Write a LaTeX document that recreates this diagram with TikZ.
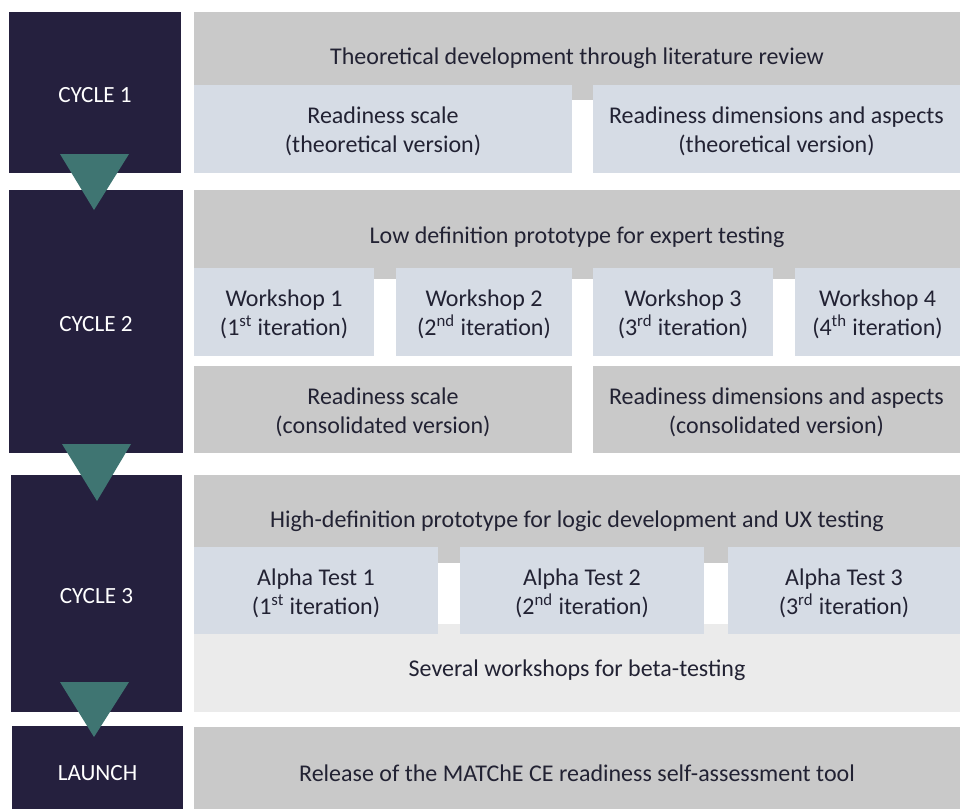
\documentclass[tikz,border=0pt]{standalone}
\usepackage{fontspec}
\setmainfont{Carlito}
\usetikzlibrary{fit}

\definecolor{navy}{HTML}{25203E}
\definecolor{teal}{HTML}{3F7572}
\definecolor{band}{HTML}{C9C9C9}
\definecolor{pale}{HTML}{D6DCE5}
\definecolor{soft}{HTML}{EBEBEB}
\definecolor{ink}{HTML}{222233}

\tikzset{
  blk/.style={rectangle,inner sep=0pt,outer sep=0pt},
  txt/.style={align=center,text=ink,inner sep=0pt,yshift=-1.5pt,
    font=\fontsize{13.66pt}{16.5pt}\selectfont},
  cycle/.style={blk,fill=navy,
    label={[txt,text=white,font=\fontsize{13.2pt}{16pt}\selectfont]center:#1}},
  head/.style={blk,fill=band,label={[txt]center:#1}},
  step box/.style={blk,fill=pale,label={[txt]center:#1}},
  out box/.style={blk,fill=band,label={[txt]center:#1}},
  beta/.style={blk,fill=soft,label={[txt]center:#1}},
  arrowhead/.style={fill=teal}
}

\begin{document}
\begin{tikzpicture}[x=0.02cm,y=-0.02cm]
\useasboundingbox (0,0) rectangle (960,808);

% cycle column
\node[cycle=CYCLE 1,fit={(9,12) (181,173)}](c1){};
\node[cycle=CYCLE 2,fit={(9,190) (183,453)}](c2){};
\node[cycle=CYCLE 3,fit={(11,475) (182,712)}](c3){};
\node[cycle=LAUNCH,fit={(12,726) (183,815)}](launch){};

% cycle 1
\node[head={Theoretical development through literature review},fit={(194,12) (960,100)}](t1){};
\node[step box={Readiness scale\\(theoretical version)},fit={(194,85) (572,173)}](s1){};
\node[step box={Readiness dimensions and aspects\\(theoretical version)},fit={(593,85) (960,173)}](d1){};

% cycle 2
\node[head={Low definition prototype for expert testing},fit={(194,190) (960,279)}](t2){};
\node[step box={Workshop 1\\(1\textsuperscript{st} iteration)},fit={(194,268) (374,356)}](w1){};
\node[step box={Workshop 2\\(2\textsuperscript{nd} iteration)},fit={(396,268) (572,356)}](w2){};
\node[step box={Workshop 3\\(3\textsuperscript{rd} iteration)},fit={(593,268) (773,356)}](w3){};
\node[step box={Workshop 4\\(4\textsuperscript{th} iteration)},fit={(795,268) (960,356)}](w4){};
\node[out box={Readiness scale\\(consolidated version)},fit={(194,366) (572,453)}](s2){};
\node[out box={Readiness dimensions and aspects\\(consolidated version)},fit={(593,366) (960,453)}](d2){};

% cycle 3
\node[head={High-definition prototype for logic development and UX testing},fit={(194,475) (960,563)}](t3){};
\node[beta={Several workshops for beta-testing},fit={(194,624) (960,712)}](bt){};
\node[step box={Alpha Test 1\\(1\textsuperscript{st} iteration)},fit={(194,547) (438,634)}](a1){};
\node[step box={Alpha Test 2\\(2\textsuperscript{nd} iteration)},fit={(460,547) (704,634)}](a2){};
\node[step box={Alpha Test 3\\(3\textsuperscript{rd} iteration)},fit={(728,547) (960,634)}](a3){};

% launch
\node[head={Release of the MATChE CE readiness self-assessment tool},fit={(194,727) (960,815)}](rel){};

% arrows between cycles
\fill[arrowhead] (60,154) -- (129,154) -- (94,210) -- cycle;
\fill[arrowhead] (62,444) -- (131,444) -- (97,501) -- cycle;
\fill[arrowhead] (60,682) -- (129,682) -- (94,737) -- cycle;

\end{tikzpicture}
\end{document}
